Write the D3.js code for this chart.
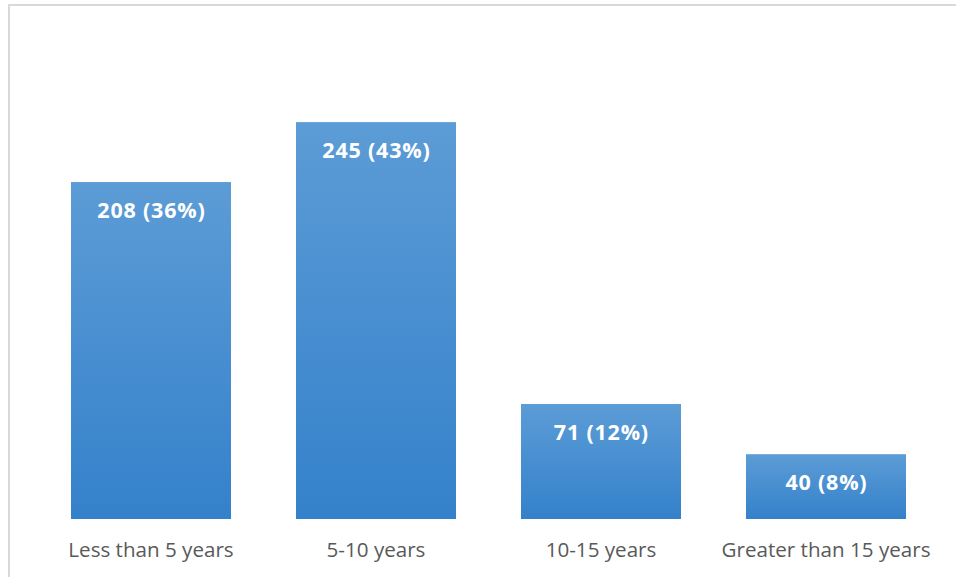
<!DOCTYPE html>
<html>
<head>
<meta charset="utf-8">
<script src="https://cdn.jsdelivr.net/npm/d3@7"></script>
<style>
  html, body { margin: 0; padding: 0; background: #fff; }
  svg { display: block; }
</style>
</head>
<body>
<svg id="chart" width="956" height="577"></svg>
<script>
// Respondents by years of experience
const categories = ["Less than 5 years", "5-10 years", "10-15 years", "Greater than 15 years"];
const counts = [208, 245, 71, 40];
const percents = ["36%", "43%", "12%", "8%"];
const yDomain = [0, 300];

const svg = d3.select("#chart");
const W = 956, H = 577;
const plot = { left: 38.5, right: 938.5, top: 33, bottom: 519 };

// Chart frame (right and bottom edges sit beyond the canvas)
svg.append("rect")
  .attr("x", 9).attr("y", 5)
  .attr("width", W + 10).attr("height", H + 10)
  .attr("fill", "#fff")
  .attr("stroke", "#d9d9d9")
  .attr("stroke-width", 2);

// Vertical gradient for bar fill
const defs = svg.append("defs");
const grad = defs.append("linearGradient")
  .attr("id", "barFill")
  .attr("x1", 0).attr("y1", 0).attr("x2", 0).attr("y2", 1);
grad.append("stop").attr("offset", "0%").attr("stop-color", "#5c9cd6");
grad.append("stop").attr("offset", "100%").attr("stop-color", "#3481cb");

const gap = 65 / 225;
const x = d3.scaleBand()
  .domain(categories)
  .range([plot.left, plot.right])
  .paddingInner(gap)
  .paddingOuter(gap / 2);

const y = d3.scaleLinear()
  .domain(yDomain)
  .range([plot.bottom, plot.top]);

const data = categories.map((c, i) => ({ cat: c, value: counts[i], pct: percents[i] }));

svg.append("g")
  .selectAll("rect")
  .data(data)
  .join("rect")
  .attr("x", d => x(d.cat))
  .attr("y", d => y(d.value))
  .attr("width", x.bandwidth())
  .attr("height", d => y(0) - y(d.value))
  .attr("fill", "url(#barFill)");

// Value labels inside the top of each bar
svg.append("g")
  .selectAll("text")
  .data(data)
  .join("text")
  .attr("x", d => x(d.cat) + x.bandwidth() / 2 + 0.4)
  .attr("y", d => y(d.value) + 36)
  .attr("text-anchor", "middle")
  .attr("font-family", "'Open Sans', Lato, sans-serif")
  .attr("font-weight", "bold")
  .attr("font-size", 21.5)
  .attr("letter-spacing", 0.8)
  .attr("fill", "#ffffff")
  .text(d => `${d.value} (${d.pct})`);

// Category axis (labels only, no line or ticks)
const xAxis = svg.append("g")
  .attr("transform", `translate(0,${plot.bottom})`)
  .call(d3.axisBottom(x).tickSize(0).tickPadding(0));
xAxis.select(".domain").remove();
xAxis.selectAll("text")
  .attr("y", 38)
  .attr("dy", 0)
  .attr("font-family", "'Open Sans', Lato, sans-serif")
  .attr("font-size", 20.6)
  .attr("fill", "#595959");
</script>
</body>
</html>
